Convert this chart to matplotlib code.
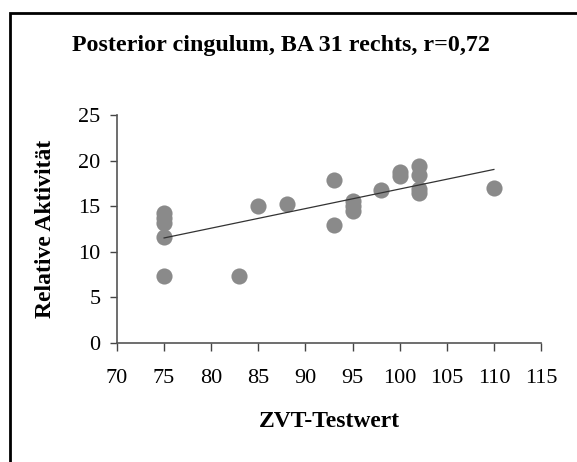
import numpy as np
import matplotlib
matplotlib.use("Agg")
import matplotlib.pyplot as plt
from matplotlib.patches import Rectangle

# Data
zvt = [75, 75, 75, 75, 75, 83, 85, 88, 93, 93, 95, 95, 95, 98, 100, 100, 102, 102, 102, 102, 110]
aktivitaet = [14.2, 13.7, 13.2, 11.6, 7.4, 7.4, 15.0, 15.2, 17.9, 12.9, 15.6, 15.0, 14.5, 16.8,
              18.7, 18.3, 19.4, 18.4, 16.9, 16.4, 17.0]
xticks = [70, 75, 80, 85, 90, 95, 100, 105, 110, 115]
yticks = [0, 5, 10, 15, 20, 25]
title = "Posterior cingulum, BA 31 rechts, r=0,72"
xlabel = "ZVT-Testwert"
ylabel = "Relative Aktivität"

plt.rcParams['font.family'] = ['Liberation Serif', 'DejaVu Serif']

fig = plt.figure(figsize=(5.77, 4.62), dpi=100)
W, H = 577, 462
ax = fig.add_axes([117 / W, 1 - 343 / H, (541 - 117) / W, (343 - 115) / H])

# frame around figure
fig.patches.append(Rectangle((10 / W, -0.1), 1.2, 1 - 13 / H + 0.1, transform=fig.transFigure,
                             fill=False, edgecolor='black', linewidth=2.0))

ax.scatter(zvt, aktivitaet, s=135, color='#8a8a8a', marker='o', zorder=3, linewidths=0)

coef = np.polyfit(zvt, aktivitaet, 1)
xs = np.array([min(zvt), max(zvt)])
ax.plot(xs, np.polyval(coef, xs), color='#333333', linewidth=0.9, zorder=4)

ax.set_xlim(70, 115)
ax.set_ylim(0, 25)
ax.set_xticks(xticks)
ax.set_yticks(yticks)
ax.tick_params(axis='both', labelsize=16, direction='out', color='#444444', width=1)
ax.tick_params(axis='x', length=6, pad=13)
ax.tick_params(axis='y', length=5, pad=7)
for s in ['top', 'right']:
    ax.spines[s].set_visible(False)
for s in ['left', 'bottom']:
    ax.spines[s].set_color('#555555')
    ax.spines[s].set_linewidth(1.2)

ax.set_xlabel(xlabel, fontsize=17, fontweight='bold', labelpad=16)
ax.set_ylabel(ylabel, fontsize=17, fontweight='bold', labelpad=16)
fig.text(281 / W, 1 - 45 / H, title, fontsize=17.3, fontweight='bold', ha='center', va='center')

fig.savefig("out.png", dpi=100)
